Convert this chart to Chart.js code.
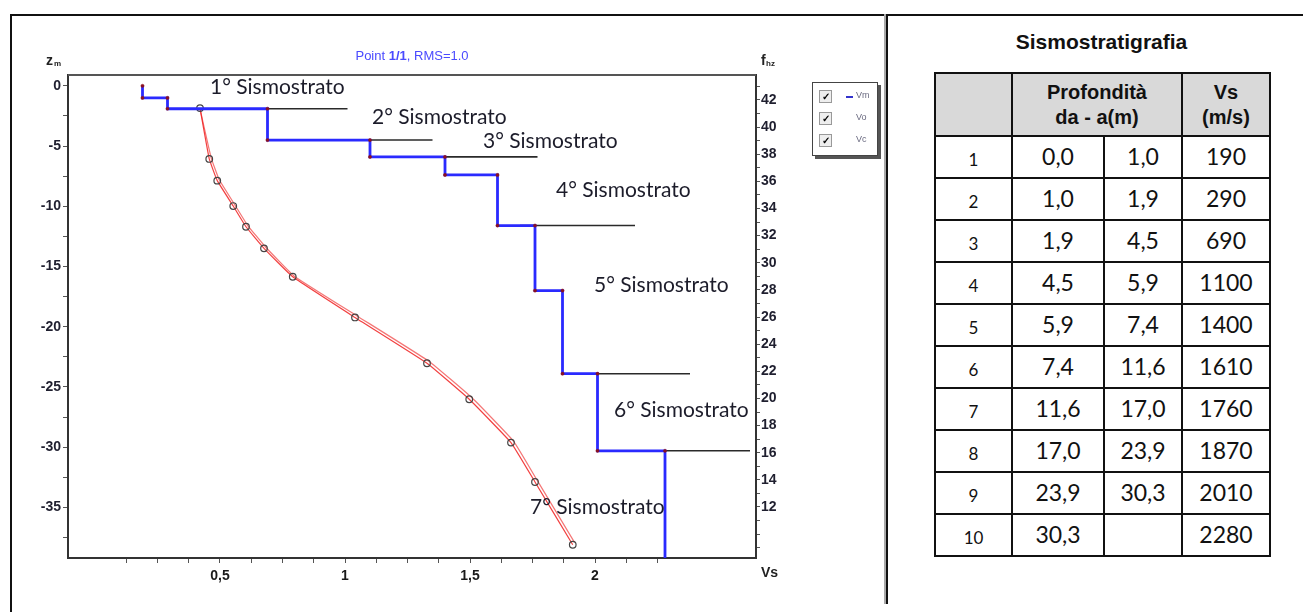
<!DOCTYPE html>
<html>
<head>
<meta charset="utf-8">
<script src="https://cdn.jsdelivr.net/npm/chart.js@4.4.1/dist/chart.umd.min.js"></script>
<style>
body { margin:0; width:1303px; height:612px; background:#fff; position:relative; overflow:hidden; font-family:"Liberation Sans", Arial, sans-serif; }
#frameTop { position:absolute; left:10px; top:14px; width:1293px; height:2px; background:#111; }
#frameLeft { position:absolute; left:10px; top:14px; width:2px; height:598px; background:#111; }
#sep { position:absolute; left:884px; top:14px; width:2px; height:590px; background:#aaa; border-right:2px solid #111; }
#wrap { position:absolute; left:0; top:0; width:880px; height:612px; }
#legend { position:absolute; left:812px; top:82px; width:64px; height:72px; border:1px solid #444; background:#fff; box-shadow:3px 3px 0 #555; }
#legend .row { position:absolute; left:6px; height:14px; width:54px; font-size:9px; color:#6a6a80; }
#legend .box { position:absolute; left:0; top:0; width:11px; height:11px; border:1px solid #999; background:#eee; font-size:10px; line-height:11px; text-align:center; color:#000; font-weight:bold; }
#legend .lab { position:absolute; left:37px; top:0; }
#legend .dash { position:absolute; left:27px; top:6px; width:7px; height:2px; background:#33c; }
#titleSide { position:absolute; left:934px; width:335px; top:30px; text-align:center; font-weight:bold; font-size:21px; color:#111; }
#strati { position:absolute; left:934px; top:72px; border-collapse:collapse; }
#strati td, #strati th { border:2px solid #111; text-align:center; padding:0; box-sizing:border-box; }
#strati th { background:#d9d9d9; font-size:20px; font-weight:bold; height:63px; line-height:25px; color:#111; }
#strati td { height:42px; font-family:Lato, "Open Sans", sans-serif; font-size:23px; color:#111; vertical-align:top; padding-top:5px; }
#strati td.n { font-size:17px; padding-top:12px; }
</style>
</head>
<body>
<div id="frameTop"></div>
<div id="frameLeft"></div>
<div id="sep"></div>
<div id="wrap"><canvas id="chart" width="880" height="612"></canvas></div>
<div id="legend">
  <div class="row" style="top:7px"><div class="box">✓</div><div class="dash"></div><div class="lab">Vm</div></div>
  <div class="row" style="top:29px"><div class="box">✓</div><div class="lab">Vo</div></div>
  <div class="row" style="top:51px"><div class="box">✓</div><div class="lab">Vc</div></div>
</div>
<div id="titleSide">Sismostratigrafia</div>
<table id="strati"></table>

<script>
// Sismostratigrafia : profondità (m) e Vs (m/s) per strato
const depthTop = [0.0, 1.0, 1.9, 4.5, 5.9, 7.4, 11.6, 17.0, 23.9, 30.3];
const depthBottom = [1.0, 1.9, 4.5, 5.9, 7.4, 11.6, 17.0, 23.9, 30.3, null];
const vsLayer = [190, 290, 690, 1100, 1400, 1610, 1760, 1870, 2010, 2280];

// curva osservata (Vo) e calcolata (Vc) : Vs in km/s, z in m
const voVs = [0.42, 0.457, 0.489, 0.553, 0.604, 0.676, 0.791, 1.04, 1.328, 1.497, 1.664, 1.76, 1.911];
const voZ = [-1.85, -6.07, -7.87, -9.98, -11.7, -13.49, -15.85, -19.23, -23.03, -26.02, -29.62, -32.89, -38.1];
const vcVs = [0.42, 0.465, 0.497, 0.56, 0.611, 0.683, 0.797, 1.048, 1.338, 1.508, 1.674, 1.77, 1.918];
const vcZ = [-1.9, -6.0, -7.8, -9.9, -11.6, -13.4, -15.8, -19.1, -22.9, -25.9, -29.5, -32.8, -37.9];

// linee di separazione dei sismostrati
const boundZ = [-1.9, -4.5, -5.9, -11.6, -23.9, -30.3];
const boundFrom = [0.55, 0.89, 1.31, 1.70, 1.91, 2.15];
const boundTo = [1.01, 1.35, 1.77, 2.16, 2.38, 2.62];

const strataNames = ['1° Sismostrato', '2° Sismostrato', '3° Sismostrato', '4° Sismostrato', '5° Sismostrato', '6° Sismostrato', '7° Sismostrato'];
const strataX = [0.46, 1.108, 1.552, 1.844, 1.996, 2.076, 1.74];
const strataZ = [-0.08, -2.58, -4.57, -8.65, -16.54, -26.93, -35.0];

// etichette degli assi
const zTicks = [0, -5, -10, -15, -20, -25, -30, -35];
const vsTicks = [0.5, 1, 1.5, 2];
const vsTickLabels = ['0,5', '1', '1,5', '2'];
const hzTicks = [42, 40, 38, 36, 34, 32, 30, 28, 26, 24, 22, 20, 18, 16, 14, 12];

const zMin = -39.2, zMax = 0.9;

// tabella
const fmt = v => v == null ? '' : v.toFixed(1).replace('.', ',');
let html = '<tr><th style="width:77px"></th><th colspan="2" style="width:170px">Profondità<br>da - a(m)</th><th style="width:88px">Vs<br>(m/s)</th></tr>';
for (let i = 0; i < vsLayer.length; i++) {
    html += '<tr><td class="n" style="width:77px">' + (i + 1) + '</td><td style="width:92px">' + fmt(depthTop[i]) +
        '</td><td style="width:78px">' + fmt(depthBottom[i]) + '</td><td style="width:88px">' + vsLayer[i] + '</td></tr>';
}
document.getElementById('strati').innerHTML = html;

// profilo a gradini Vm
const stepPts = [];
for (let i = 0; i < vsLayer.length; i++) {
    stepPts.push({ x: vsLayer[i] / 1000, y: -depthTop[i] });
    stepPts.push({ x: vsLayer[i] / 1000, y: depthBottom[i] == null ? zMin : -depthBottom[i] });
}

const boundSets = boundZ.map((z, i) => ({
    data: [{ x: boundFrom[i], y: z }, { x: boundTo[i], y: z }],
    borderColor: '#2a2a2a', borderWidth: 1.6, pointRadius: 0, showLine: true, order: 3
}));

const textPlugin = {
    id: 'testi',
    afterDraw(chart) {
        const c = chart.ctx, a = chart.chartArea;
        const xs = chart.scales.x, ys = chart.scales.y;
        c.save();
        // bordo superiore
        c.strokeStyle = '#555'; c.lineWidth = 2;
        c.beginPath(); c.moveTo(a.left, a.top); c.lineTo(a.right, a.top); c.stroke();
        // titolo
        const f1 = '13px "Liberation Sans", Arial', f2 = 'bold 13px "Liberation Sans", Arial';
        c.textBaseline = 'middle';
        const p1 = 'Point ', p2 = '1/1', p3 = ', RMS=1.0';
        c.font = f2; const w2 = c.measureText(p2).width;
        c.font = f1;
        const w1 = c.measureText(p1).width, w3 = c.measureText(p3).width;
        let tx = (a.left + a.right) / 2 - (w1 + w2 + w3) / 2;
        const ty = a.top - 19;
        c.fillStyle = '#4a4aff'; c.textAlign = 'left';
        c.fillText(p1, tx, ty); tx += w1;
        c.font = f2; c.fillText(p2, tx, ty); tx += w2;
        c.font = f1; c.fillText(p3, tx, ty);
        // nomi assi
        c.fillStyle = '#222';
        c.font = 'bold 14px "Liberation Sans", Arial';
        c.fillText('z', a.left - 22, a.top - 14);
        c.fillText('f', a.right + 5, a.top - 14);
        c.font = 'bold 8px "Liberation Sans", Arial';
        c.fillText('m', a.left - 14, a.top - 11);
        c.fillText('hz', a.right + 10, a.top - 11);
        c.font = 'bold 14px "Liberation Sans", Arial';
        c.fillText('Vs', a.right + 5, a.bottom + 15);
        // sismostrati
        c.font = '21px Lato, "Open Sans", sans-serif';
        c.fillStyle = '#1c1c2a';
        strataNames.forEach((n, i) => {
            c.fillText(n, xs.getPixelForValue(strataX[i]), ys.getPixelForValue(strataZ[i]));
        });
        c.restore();
    }
};

const tickFont = { family: '"Liberation Sans", Arial', size: 14, weight: 'bold' };

new Chart(document.getElementById('chart'), {
    type: 'scatter',
    data: {
        datasets: [
            {
                label: 'Vo', data: voVs.map((v, i) => ({ x: v, y: voZ[i] })),
                showLine: true, borderColor: 'rgba(240,30,30,0.85)', borderWidth: 1.2, tension: 0.1,
                pointRadius: 3.3, pointBorderColor: '#444', pointBackgroundColor: 'rgba(0,0,0,0)', pointBorderWidth: 1.2, order: 1
            },
            {
                label: 'Vc', data: vcVs.map((v, i) => ({ x: v, y: vcZ[i] })),
                showLine: true, borderColor: 'rgba(240,60,60,0.7)', borderWidth: 1.2, tension: 0.1,
                pointRadius: 0, order: 2
            },
            ...boundSets,
            {
                label: 'Vm', data: stepPts, showLine: true, borderColor: '#2a2aff', borderWidth: 2.8,
                pointRadius: ctx => ctx.dataIndex === stepPts.length - 1 ? 0 : 1.6,
                pointBackgroundColor: '#8a1020', pointBorderColor: '#8a1020', pointBorderWidth: 0.5, order: 0
            }
        ]
    },
    options: {
        responsive: false,
        animation: false,
        events: [],
        layout: { padding: { left: 20, top: 75, right: 94, bottom: 20 } },
        plugins: { legend: { display: false }, tooltip: { enabled: false } },
        scales: {
            x: {
                type: 'linear', min: -0.108, max: 2.644,
                afterBuildTicks: s => { s.ticks = []; for (let k = 1; k <= 18; k++) s.ticks.push({ value: k * 0.125 }); },
                afterFit: s => { s.height = 34; },
                ticks: {
                    autoSkip: false, maxRotation: 0, color: '#1a1a1a', font: tickFont, padding: 5,
                    callback: v => { const i = vsTicks.findIndex(t => Math.abs(t - v) < 1e-6); return i < 0 ? '' : vsTickLabels[i]; }
                },
                grid: { drawOnChartArea: false, tickLength: 5, color: '#555' },
                border: { color: '#333', width: 2 }
            },
            y: {
                type: 'linear', position: 'left', min: zMin, max: zMax,
                afterBuildTicks: s => { s.ticks = []; for (let k = 0; k <= 15; k++) s.ticks.push({ value: -2.5 * k }); },
                afterFit: s => { s.width = 48; },
                ticks: {
                    autoSkip: false, color: '#1f1f2f', font: tickFont, padding: 2,
                    callback: v => zTicks.some(t => Math.abs(t - v) < 1e-6) ? String(v) : ''
                },
                grid: { drawOnChartArea: false, tickLength: 5, color: '#555' },
                border: { color: '#333', width: 2 }
            },
            y2: {
                type: 'linear', position: 'right', min: 8.24, max: 43.84,
                afterBuildTicks: s => { s.ticks = []; for (let k = 9; k <= 43; k++) s.ticks.push({ value: k }); },
                afterFit: s => { s.width = 30; },
                ticks: {
                    autoSkip: false, color: '#1f1f2f', font: tickFont, padding: 1,
                    callback: v => hzTicks.includes(v) ? String(v) : ''
                },
                grid: { drawOnChartArea: false, tickLength: 4, color: '#555' },
                border: { color: '#333', width: 2 }
            }
        }
    },
    plugins: [textPlugin]
});
</script>
</body>
</html>
